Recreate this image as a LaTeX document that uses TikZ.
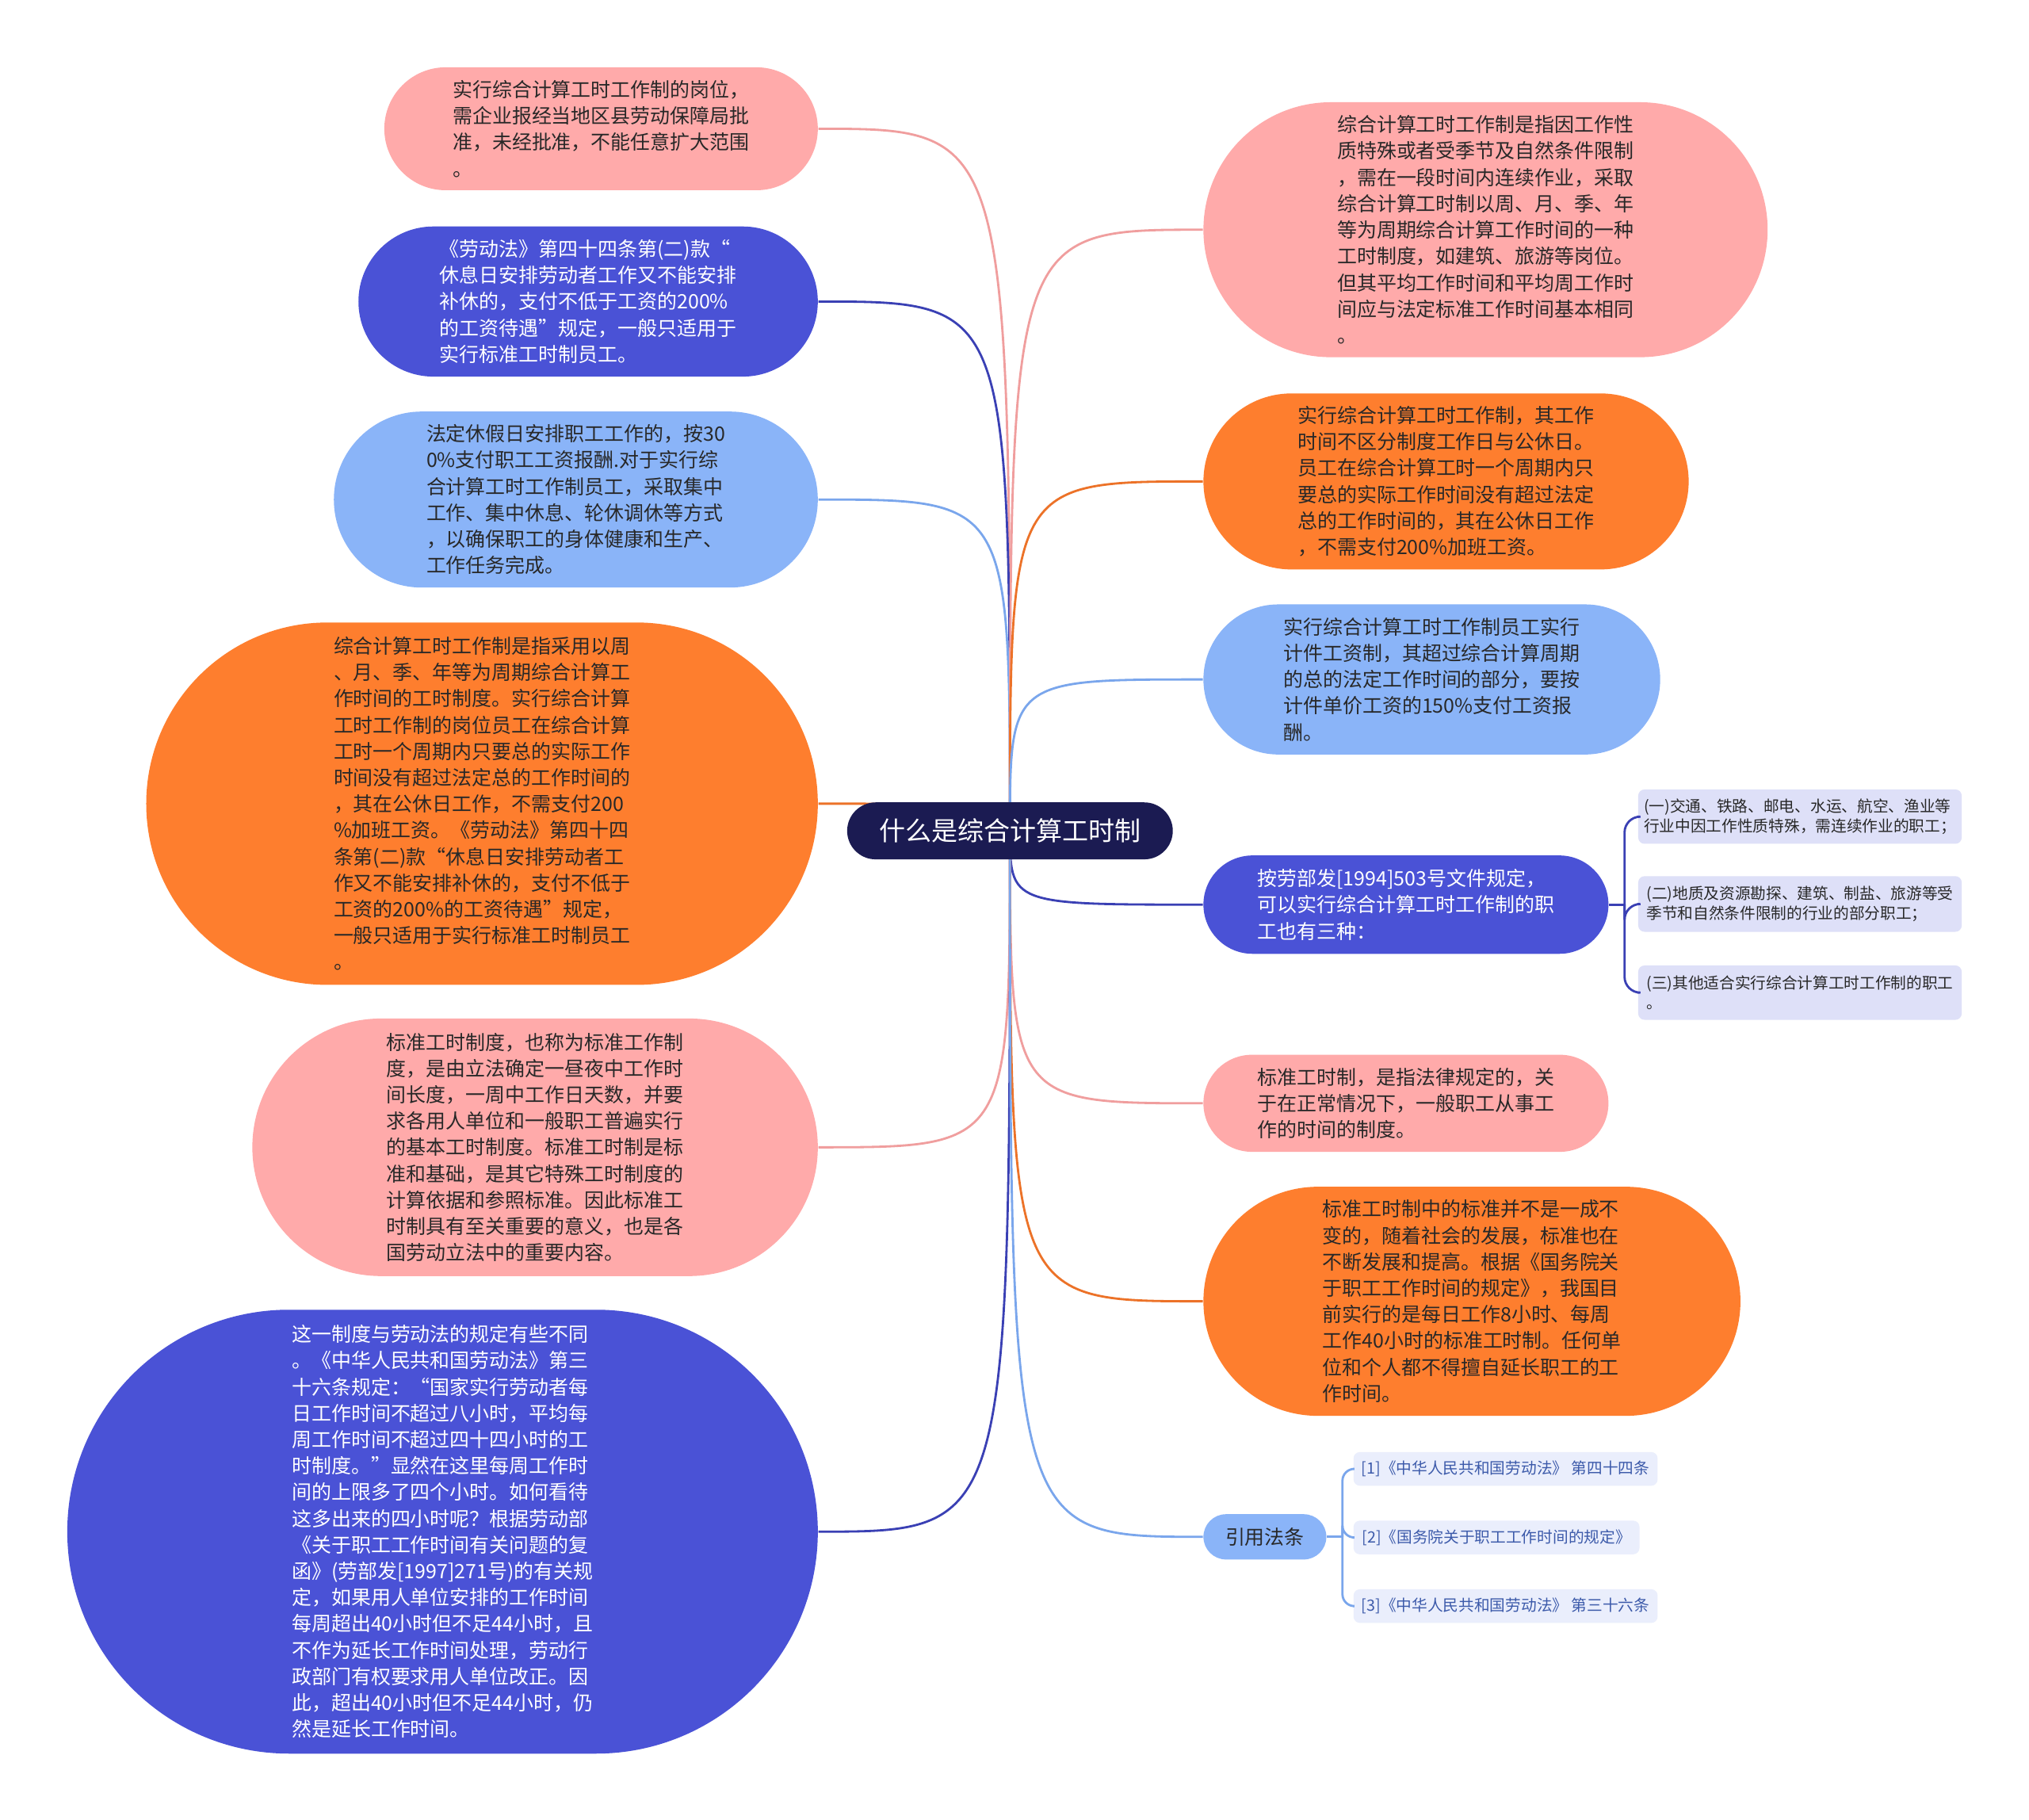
\documentclass[tikz,border=0pt]{standalone}
\usepackage{fontspec}
\setmainfont{Noto Sans CJK SC}
\usetikzlibrary{shapes.misc, backgrounds}
\definecolor{inkcol}{RGB}{40,40,40}
\definecolor{pinkcol}{RGB}{255,170,170}
\definecolor{pinkline}{RGB}{240,158,158}
\definecolor{bluecol}{RGB}{74,82,214}
\definecolor{blueline}{RGB}{58,64,180}
\definecolor{skycol}{RGB}{138,180,248}
\definecolor{skyline}{RGB}{122,166,236}
\definecolor{orangecol}{RGB}{254,126,46}
\definecolor{orangeline}{RGB}{236,114,40}
\definecolor{rootcol}{RGB}{27,27,82}
\definecolor{leafcol}{RGB}{222,224,248}
\definecolor{refcol}{RGB}{234,238,252}
\definecolor{reftext}{RGB}{60,90,170}
\newcommand\unitpx{0.016327cm}
\newcommand\bodyfont{\fontsize{7.1pt}{9.45pt}\selectfont}
\newcommand\leaffont{\fontsize{5.6pt}{7.2pt}\selectfont}
\newcommand\rootfont{\fontsize{9.4pt}{11pt}\selectfont}
\tikzset{
  bsize/.style 2 args={minimum width=#1*\unitpx, minimum height=#2*\unitpx},
  bubble/.style={rounded rectangle, inner sep=0pt, align=left, font=\bodyfont, text=inkcol},
  link/.style={line width=0.8pt},
  leaf/.style={rectangle, rounded corners=0.08cm, fill=leafcol, inner sep=0pt, align=left, font=\leaffont, text=inkcol},
  refbox/.style={rectangle, rounded corners=0.08cm, fill=refcol, inner sep=0pt, font=\leaffont, text=reftext}
}

\begin{document}
\begin{tikzpicture}[x=\unitpx, y=-\unitpx]

  % --- canvas ------------------------------------------------------------
  \useasboundingbox (0,0) rectangle (1568,1406);

  % --- central topic -----------------------------------------------------
  \node[rounded rectangle, fill=rootcol, text=white, font=\rootfont, bsize={266}{44}] (root) at (780.5,642) {什么是综合计算工时制};

  % --- left branch -------------------------------------------------------
  \node[bubble, fill=pinkcol, bsize={335}{95}] (L1) at (464.5,99.5) {%
    实行综合计算工时工作制的岗位，\\
    需企业报经当地区县劳动保障局批\\
    准，未经批准，不能任意扩大范围\\
    。};
  \node[bubble, fill=bluecol, text=white, bsize={355}{116}] (L2) at (454.5,233) {%
    《劳动法》第四十四条第(二)款“\\
    休息日安排劳动者工作又不能安排\\
    补休的，支付不低于工资的200\%\\
    的工资待遇”规定，一般只适用于\\
    实行标准工时制员工。};
  \node[bubble, fill=skycol, bsize={374}{136}] (L3) at (445,386) {%
    法定休假日安排职工工作的，按30\\
    0\%支付职工工资报酬.对于实行综\\
    合计算工时工作制员工，采取集中\\
    工作、集中休息、轮休调休等方式\\
    ，以确保职工的身体健康和生产、\\
    工作任务完成。};
  \node[bubble, fill=orangecol, bsize={519}{280}] (L4) at (372.5,621) {%
    综合计算工时工作制是指采用以周\\
    、月、季、年等为周期综合计算工\\
    作时间的工时制度。实行综合计算\\
    工时工作制的岗位员工在综合计算\\
    工时一个周期内只要总的实际工作\\
    时间没有超过法定总的工作时间的\\
    ，其在公休日工作，不需支付200\\
    \%加班工资。《劳动法》第四十四\\
    条第(二)款“休息日安排劳动者工\\
    作又不能安排补休的，支付不低于\\
    工资的200\%的工资待遇”规定，\\
    一般只适用于实行标准工时制员工\\
    。};
  \node[bubble, fill=pinkcol, bsize={437}{199}] (L5) at (413.5,886.5) {%
    标准工时制度，也称为标准工作制\\
    度，是由立法确定一昼夜中工作时\\
    间长度，一周中工作日天数，并要\\
    求各用人单位和一般职工普遍实行\\
    的基本工时制度。标准工时制是标\\
    准和基础，是其它特殊工时制度的\\
    计算依据和参照标准。因此标准工\\
    时制具有至关重要的意义，也是各\\
    国劳动立法中的重要内容。};
  \node[bubble, fill=bluecol, text=white, bsize={580}{343}] (L6) at (342,1183.5) {%
    这一制度与劳动法的规定有些不同\\
    。《中华人民共和国劳动法》第三\\
    十六条规定：“国家实行劳动者每\\
    日工作时间不超过八小时，平均每\\
    周工作时间不超过四十四小时的工\\
    时制度。”显然在这里每周工作时\\
    间的上限多了四个小时。如何看待\\
    这多出来的四小时呢？根据劳动部\\
    《关于职工工作时间有关问题的复\\
    函》(劳部发[1997]271号)的有关规\\
    定，如果用人单位安排的工作时间\\
    每周超出40小时但不足44小时，且\\
    不作为延长工作时间处理，劳动行\\
    政部门有权要求用人单位改正。因\\
    此，超出40小时但不足44小时，仍\\
    然是延长工作时间。};

  % --- right branch ------------------------------------------------------
  \node[bubble, fill=pinkcol, bsize={436}{197}] (R1) at (1148,177.5) {%
    综合计算工时工作制是指因工作性\\
    质特殊或者受季节及自然条件限制\\
    ，需在一段时间内连续作业，采取\\
    综合计算工时制以周、月、季、年\\
    等为周期综合计算工作时间的一种\\
    工时制度，如建筑、旅游等岗位。\\
    但其平均工作时间和平均周工作时\\
    间应与法定标准工作时间基本相同\\
    。};
  \node[bubble, fill=orangecol, bsize={375}{136}] (R2) at (1117.5,372) {%
    实行综合计算工时工作制，其工作\\
    时间不区分制度工作日与公休日。\\
    员工在综合计算工时一个周期内只\\
    要总的实际工作时间没有超过法定\\
    总的工作时间的，其在公休日工作\\
    ，不需支付200\%加班工资。};
  \node[bubble, fill=skycol, bsize={353}{116}] (R3) at (1106.5,525) {%
    实行综合计算工时工作制员工实行\\
    计件工资制，其超过综合计算周期\\
    的总的法定工作时间的部分，要按\\
    计件单价工资的150\%支付工资报\\
    酬。};
  \node[bubble, fill=bluecol, text=white, bsize={313}{76}] (R4) at (1086.5,699) {%
    按劳部发[1994]503号文件规定，\\
    可以实行综合计算工时工作制的职\\
    工也有三种：};
  \node[bubble, fill=pinkcol, bsize={313}{75}] (R5) at (1086.5,852.5) {%
    标准工时制，是指法律规定的，关\\
    于在正常情况下，一般职工从事工\\
    作的时间的制度。};
  \node[bubble, fill=orangecol, bsize={415}{177}] (R6) at (1137.5,1005.5) {%
    标准工时制中的标准并不是一成不\\
    变的，随着社会的发展，标准也在\\
    不断发展和提高。根据《国务院关\\
    于职工工作时间的规定》，我国目\\
    前实行的是每日工作8小时、每周\\
    工作40小时的标准工时制。任何单\\
    位和个人都不得擅自延长职工的工\\
    作时间。};
  \node[bubble, fill=skycol, bsize={95}{35}] (R7) at (977.5,1187.5) {引用法条};

  % --- the three kinds under R4 -----------------------------------------
  \node[leaf, bsize={250}{42}] (S1) at (1391,631) {%
    (一)交通、铁路、邮电、水运、航空、渔业等\\
    行业中因工作性质特殊，需连续作业的职工；};
  \node[leaf, bsize={250}{43}] (S2) at (1391,698.5) {%
    (二)地质及资源勘探、建筑、制盐、旅游等受\\
    季节和自然条件限制的行业的部分职工；};
  \node[leaf, bsize={250}{42}] (S3) at (1391,767) {%
    (三)其他适合实行综合计算工时工作制的职工\\
    。};

  % --- cited laws under R7 ----------------------------------------------
  \node[refbox, bsize={235}{26}] (F1) at (1163.5,1135) {[1]《中华人民共和国劳动法》 第四十四条};
  \node[refbox, bsize={221}{26}] (F2) at (1156.5,1188) {[2]《国务院关于职工工作时间的规定》};
  \node[refbox, bsize={235}{26}] (F3) at (1163.5,1241) {[3]《中华人民共和国劳动法》 第三十六条};

  % --- white canvas and connectors, behind the bubbles ------------------
  \begin{scope}[on background layer]
    \fill[white] (0,0) rectangle (1568,1406);
    \foreach \n/\c in {L1/pinkline, L2/blueline, L3/skyline, L4/orangeline, L5/pinkline, L6/blueline}
      \draw[link, \c] (root.center) .. controls (root.center |- \n.east) .. (\n.east);
    \foreach \n/\c in {R1/pinkline, R2/orangeline, R3/skyline, R4/blueline, R5/pinkline, R6/orangeline, R7/skyline}
      \draw[link, \c] (root.center) .. controls (root.center |- \n.west) .. (\n.west);
  \end{scope}

  % --- brackets to the leaves -------------------------------------------
  \draw[link, blueline] (R4.east) -- ++(12,0) coordinate (R4j);
  \foreach \s in {S1, S2, S3}
    \draw[link, blueline, rounded corners=0.2cm] (R4j) |- (\s.west);
  \draw[link, skyline] (R7.east) -- ++(12,0) coordinate (R7j);
  \foreach \f in {F1, F2, F3}
    \draw[link, skyline, rounded corners=0.15cm] (R7j) |- (\f.west);

\end{tikzpicture}
\end{document}
